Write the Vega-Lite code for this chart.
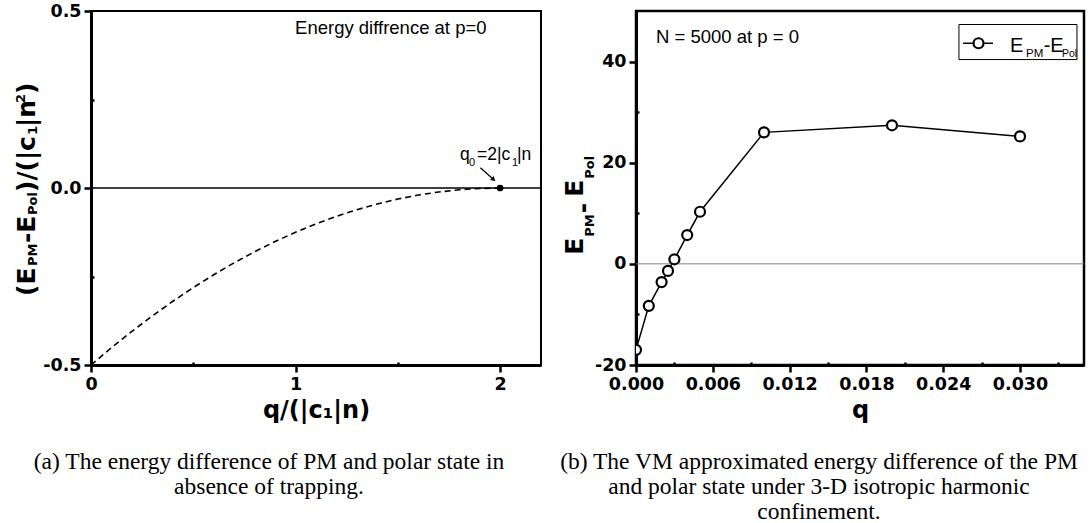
{
  "$schema": "https://vega.github.io/schema/vega-lite/v6.json",
  "background": "white",
  "autosize": {"type": "pad"},
  "padding": {"left": 13, "top": 1, "right": 0, "bottom": 0},
  "spacing": 95,
  "bounds": "flush",
  "config": {
    "view": {"stroke": "black", "strokeWidth": 2},
    "axis": {"domainColor": "black", "domainWidth": 3, "tickColor": "black", "tickWidth": 2.5, "grid": false,
      "labelFont": "DejaVu Sans", "labelFontWeight": "bold", "labelFontSize": 17.5, "labelColor": "black", "labelPadding": 3,
      "labelFlush": false, "labelOverlap": false,
      "titleFont": "DejaVu Sans", "titleFontWeight": "bold", "titleFontSize": 24, "titleColor": "black"},
    "title": {"font": "Liberation Serif", "fontSize": 23.5, "fontWeight": "normal", "color": "black", "orient": "bottom", "anchor": "middle", "offset": 27, "lineHeight": 25}
  },
  "hconcat": [
    {
      "width": 450, "height": 354,
      "title": {"text": ["(a) The energy difference of PM and polar state in", "absence of trapping."], "dx": -47},
      "layer": [
        {
          "data": {"values": [{"q":0,"e":-0.5},{"q":0.1,"e":-0.45125},{"q":0.2,"e":-0.405},{"q":0.3,"e":-0.36125},{"q":0.4,"e":-0.32},{"q":0.5,"e":-0.28125},{"q":0.6,"e":-0.245},{"q":0.7,"e":-0.21125},{"q":0.8,"e":-0.18},{"q":0.9,"e":-0.15125},{"q":1.0,"e":-0.125},{"q":1.1,"e":-0.10125},{"q":1.2,"e":-0.08},{"q":1.3,"e":-0.06125},{"q":1.4,"e":-0.045},{"q":1.5,"e":-0.03125},{"q":1.6,"e":-0.02},{"q":1.7,"e":-0.01125},{"q":1.8,"e":-0.005},{"q":1.9,"e":-0.00125},{"q":2.0,"e":0}]},
          "mark": {"type": "line", "color": "black", "strokeWidth": 1.6, "strokeDash": [6, 4]},
          "encoding": {
            "x": {"field": "q", "type": "quantitative", "scale": {"domain": [0, 2.2], "nice": false, "zero": false},
              "axis": {"values": [0, 0.5, 1, 1.5, 2], "labelExpr": "round(datum.value*2) % 2 === 0 ? format(datum.value, 'd') : ''",
                "labelFontWeight": "bold",
                "tickSize": {"condition": {"test": "round(datum.value*2) % 2 === 0", "value": 7}, "value": -3},
                "title": "q/(|c₁|n)", "titlePadding": 6}},
            "y": {"field": "e", "type": "quantitative", "scale": {"domain": [-0.5, 0.5], "nice": false},
              "axis": {"values": [-0.5, -0.25, 0, 0.25, 0.5], "labelExpr": "round(datum.value*4) % 2 === 0 ? replace(format(datum.value, '.1f'), '−', '-') : ''",
                "labelFontWeight": "bold",
                "tickSize": {"condition": {"test": "round(datum.value*4) % 2 === 0", "value": 7}, "value": -3},
                "title": null}}
          }
        },
        {"data": {"values": [{}]}, "mark": {"type": "rule", "color": "black", "strokeWidth": 1.5}, "encoding": {"y": {"datum": 0, "type": "quantitative"}}},
        {"data": {"values": [{"q": 2, "e": 0}]}, "mark": {"type": "point", "filled": true, "color": "black", "size": 45, "opacity": 1},
          "encoding": {"x": {"field": "q", "type": "quantitative"}, "y": {"field": "e", "type": "quantitative"}}},
        {"data": {"values": [{}]}, "mark": {"type": "text", "text": "Energy diffrence at p=0", "font": "Liberation Sans", "fontSize": 18.5, "align": "left", "baseline": "middle", "color": "black"},
          "encoding": {"x": {"datum": 0.9976}, "y": {"datum": 0.452}}},
        {"data": {"values": [{}]}, "mark": {"type": "text", "text": "q", "font": "Liberation Sans", "fontSize": 17.5, "align": "left", "baseline": "alphabetic", "color": "black"},
          "encoding": {"x": {"datum": 1.8044}, "y": {"datum": 0.0791}}},
        {"data": {"values": [{}]}, "mark": {"type": "text", "text": "0", "font": "Liberation Sans", "fontSize": 11, "align": "left", "baseline": "alphabetic", "color": "black"},
          "encoding": {"x": {"datum": 1.848}, "y": {"datum": 0.0621}}},
        {"data": {"values": [{}]}, "mark": {"type": "text", "text": "=2|c", "font": "Liberation Sans", "fontSize": 17.5, "align": "left", "baseline": "alphabetic", "color": "black"},
          "encoding": {"x": {"datum": 1.8875}, "y": {"datum": 0.0791}}},
        {"data": {"values": [{}]}, "mark": {"type": "text", "text": "1", "font": "Liberation Sans", "fontSize": 11, "align": "left", "baseline": "alphabetic", "color": "black"},
          "encoding": {"x": {"datum": 2.0587}, "y": {"datum": 0.0621}}},
        {"data": {"values": [{}]}, "mark": {"type": "text", "text": "|n", "font": "Liberation Sans", "fontSize": 17.5, "align": "left", "baseline": "alphabetic", "color": "black"},
          "encoding": {"x": {"datum": 2.083}, "y": {"datum": 0.0791}}},
        {"data": {"values": [{}]}, "mark": {"type": "rule", "color": "black", "strokeWidth": 1.2},
          "encoding": {"x": {"datum": 1.9037}, "y": {"datum": 0.0573}, "x2": {"datum": 1.972}, "y2": {"datum": 0.022}}},
        {"data": {"values": [{}]}, "mark": {"type": "point", "shape": "triangle-up", "filled": true, "color": "black", "size": 28, "angle": 132, "opacity": 1},
          "encoding": {"x": {"datum": 1.968}, "y": {"datum": 0.024}}},
        {"data": {"values": [{}]}, "mark": {"type": "text", "text": "(E", "font": "DejaVu Sans", "fontWeight": "bold", "fontSize": 25, "angle": 270, "align": "left", "baseline": "alphabetic", "color": "black"},
          "encoding": {"x": {"datum": -0.2738}, "y": {"datum": -0.3051}}},
        {"data": {"values": [{}]}, "mark": {"type": "text", "text": "PM", "font": "DejaVu Sans", "fontWeight": "bold", "fontSize": 13, "angle": 270, "align": "left", "baseline": "alphabetic", "color": "black"},
          "encoding": {"x": {"datum": -0.262}, "y": {"datum": -0.2203}}},
        {"data": {"values": [{}]}, "mark": {"type": "text", "text": "-E", "font": "DejaVu Sans", "fontWeight": "bold", "fontSize": 25, "angle": 270, "align": "left", "baseline": "alphabetic", "color": "black"},
          "encoding": {"x": {"datum": -0.2738}, "y": {"datum": -0.1554}}},
        {"data": {"values": [{}]}, "mark": {"type": "text", "text": "Pol", "font": "DejaVu Sans", "fontWeight": "bold", "fontSize": 13, "angle": 270, "align": "left", "baseline": "alphabetic", "color": "black"},
          "encoding": {"x": {"datum": -0.262}, "y": {"datum": -0.0763}}},
        {"data": {"values": [{}]}, "mark": {"type": "text", "text": ")/(|c", "font": "DejaVu Sans", "fontWeight": "bold", "fontSize": 25, "angle": 270, "align": "left", "baseline": "alphabetic", "color": "black"},
          "encoding": {"x": {"datum": -0.2738}, "y": {"datum": -0.0113}}},
        {"data": {"values": [{}]}, "mark": {"type": "text", "text": "1", "font": "DejaVu Sans", "fontWeight": "bold", "fontSize": 13, "angle": 270, "align": "left", "baseline": "alphabetic", "color": "black"},
          "encoding": {"x": {"datum": -0.262}, "y": {"datum": 0.1497}}},
        {"data": {"values": [{}]}, "mark": {"type": "text", "text": "|n", "font": "DejaVu Sans", "fontWeight": "bold", "fontSize": 25, "angle": 270, "align": "left", "baseline": "alphabetic", "color": "black"},
          "encoding": {"x": {"datum": -0.2738}, "y": {"datum": 0.1723}}},
        {"data": {"values": [{}]}, "mark": {"type": "text", "text": "2", "font": "DejaVu Sans", "fontWeight": "bold", "fontSize": 13, "angle": 270, "align": "left", "baseline": "alphabetic", "color": "black"},
          "encoding": {"x": {"datum": -0.3227}, "y": {"datum": 0.2401}}},
        {"data": {"values": [{}]}, "mark": {"type": "text", "text": ")", "font": "DejaVu Sans", "fontWeight": "bold", "fontSize": 25, "angle": 270, "align": "left", "baseline": "alphabetic", "color": "black"},
          "encoding": {"x": {"datum": -0.2738}, "y": {"datum": 0.2655}}}
      ]
    },
    {
      "width": 448, "height": 354,
      "view": {"stroke": "black", "strokeWidth": 2.5},
      "title": {"text": ["(b) The VM approximated energy difference of the PM", "and polar state under 3-D isotropic harmonic", "confinement."], "dx": -41},
      "layer": [
        {
          "data": {"values": [{"q":0,"d":-17},{"q":0.001,"d":-8.3},{"q":0.002,"d":-3.6},{"q":0.0025,"d":-1.4},{"q":0.003,"d":0.9},{"q":0.004,"d":5.7},{"q":0.005,"d":10.3},{"q":0.01,"d":26.0},{"q":0.02,"d":27.4},{"q":0.03,"d":25.2}]},
          "mark": {"type": "line", "color": "black", "strokeWidth": 1.5, "clip": true},
          "encoding": {
            "x": {"field": "q", "type": "quantitative", "scale": {"domain": [0, 0.035], "nice": false, "zero": false},
              "axis": {"values": [0, 0.003, 0.006, 0.009, 0.012, 0.015, 0.018, 0.021, 0.024, 0.027, 0.03, 0.033],
                "labelExpr": "round(datum.value*1000) % 6 === 0 ? format(datum.value, '.3f') : ''",
                "labelFontWeight": "bold",
                "tickSize": {"condition": {"test": "round(datum.value*1000) % 6 === 0", "value": 7}, "value": -3},
                "title": "q", "titlePadding": 6}},
            "y": {"field": "d", "type": "quantitative", "scale": {"domain": [-20, 50], "nice": false, "zero": false},
              "axis": {"values": [-20, -10, 0, 10, 20, 30, 40],
                "labelExpr": "datum.value % 20 === 0 ? '' + datum.value : ''",
                "labelFontWeight": "bold",
                "tickSize": {"condition": {"test": "datum.value % 20 === 0", "value": 7}, "value": -3},
                "title": null}}
          }
        },
        {"data": {"values": [{}]}, "mark": {"type": "rule", "color": "#808080", "strokeWidth": 1}, "encoding": {"y": {"datum": 0, "type": "quantitative"}}},
        {"data": {"values": [{"q":0,"d":-17},{"q":0.001,"d":-8.3},{"q":0.002,"d":-3.6},{"q":0.0025,"d":-1.4},{"q":0.003,"d":0.9},{"q":0.004,"d":5.7},{"q":0.005,"d":10.3},{"q":0.01,"d":26.0},{"q":0.02,"d":27.4},{"q":0.03,"d":25.2}]},
          "mark": {"type": "point", "shape": "circle", "filled": true, "fill": "white", "stroke": "black", "strokeWidth": 2.2, "size": 100, "opacity": 1, "clip": true},
          "encoding": {"x": {"field": "q", "type": "quantitative"}, "y": {"field": "d", "type": "quantitative"}}},
        {"data": {"values": [{}]}, "mark": {"type": "text", "text": "N = 5000 at p = 0", "font": "Liberation Sans", "fontSize": 18.5, "align": "left", "baseline": "middle", "color": "black"},
          "encoding": {"x": {"datum": 0.00156}, "y": {"datum": 44.95}}},
        {"data": {"values": [{}]}, "mark": {"type": "rect", "fill": "white", "stroke": "black", "strokeWidth": 1},
          "encoding": {"x": {"datum": 0.02523}, "x2": {"datum": 0.03445}, "y": {"datum": 47.33}, "y2": {"datum": 40.4}}},
        {"data": {"values": [{}]}, "mark": {"type": "rule", "color": "black", "strokeWidth": 1.5},
          "encoding": {"x": {"datum": 0.02555}, "x2": {"datum": 0.02789}, "y": {"datum": 43.62}}},
        {"data": {"values": [{}]}, "mark": {"type": "point", "shape": "circle", "filled": true, "fill": "white", "stroke": "black", "strokeWidth": 2.2, "size": 100, "opacity": 1},
          "encoding": {"x": {"datum": 0.02676}, "y": {"datum": 43.62}}},
        {"data": {"values": [{}]}, "mark": {"type": "text", "text": "E", "font": "Liberation Sans", "fontSize": 20, "align": "left", "baseline": "alphabetic", "color": "black"},
          "encoding": {"x": {"datum": 0.02922}, "y": {"datum": 41.98}}},
        {"data": {"values": [{}]}, "mark": {"type": "text", "text": "PM", "font": "Liberation Sans", "fontSize": 11.5, "align": "left", "baseline": "alphabetic", "color": "black"},
          "encoding": {"x": {"datum": 0.03047}, "y": {"datum": 40.99}}},
        {"data": {"values": [{}]}, "mark": {"type": "text", "text": "-E", "font": "Liberation Sans", "fontSize": 20, "align": "left", "baseline": "alphabetic", "color": "black"},
          "encoding": {"x": {"datum": 0.03185}, "y": {"datum": 41.98}}},
        {"data": {"values": [{}]}, "mark": {"type": "text", "text": "Pol", "font": "Liberation Sans", "fontSize": 10.5, "align": "left", "baseline": "alphabetic", "color": "black"},
          "encoding": {"x": {"datum": 0.03328}, "y": {"datum": 40.99}}},
        {"data": {"values": [{}]}, "mark": {"type": "text", "text": "E", "font": "DejaVu Sans", "fontWeight": "bold", "fontSize": 25, "angle": 270, "align": "left", "baseline": "alphabetic", "color": "black"},
          "encoding": {"x": {"datum": -0.00414}, "y": {"datum": 1.78}}},
        {"data": {"values": [{}]}, "mark": {"type": "text", "text": "PM", "font": "DejaVu Sans", "fontWeight": "bold", "fontSize": 13, "angle": 270, "align": "left", "baseline": "alphabetic", "color": "black"},
          "encoding": {"x": {"datum": -0.00328}, "y": {"datum": 5.35}}},
        {"data": {"values": [{}]}, "mark": {"type": "text", "text": "-", "font": "DejaVu Sans", "fontWeight": "bold", "fontSize": 25, "angle": 270, "align": "left", "baseline": "alphabetic", "color": "black"},
          "encoding": {"x": {"datum": -0.00352}, "y": {"datum": 10.0}}},
        {"data": {"values": [{}]}, "mark": {"type": "text", "text": "E", "font": "DejaVu Sans", "fontWeight": "bold", "fontSize": 25, "angle": 270, "align": "left", "baseline": "alphabetic", "color": "black"},
          "encoding": {"x": {"datum": -0.00414}, "y": {"datum": 13.27}}},
        {"data": {"values": [{}]}, "mark": {"type": "text", "text": "Pol", "font": "DejaVu Sans", "fontWeight": "bold", "fontSize": 13, "angle": 270, "align": "left", "baseline": "alphabetic", "color": "black"},
          "encoding": {"x": {"datum": -0.00328}, "y": {"datum": 16.83}}}
      ]
    }
  ]
}
